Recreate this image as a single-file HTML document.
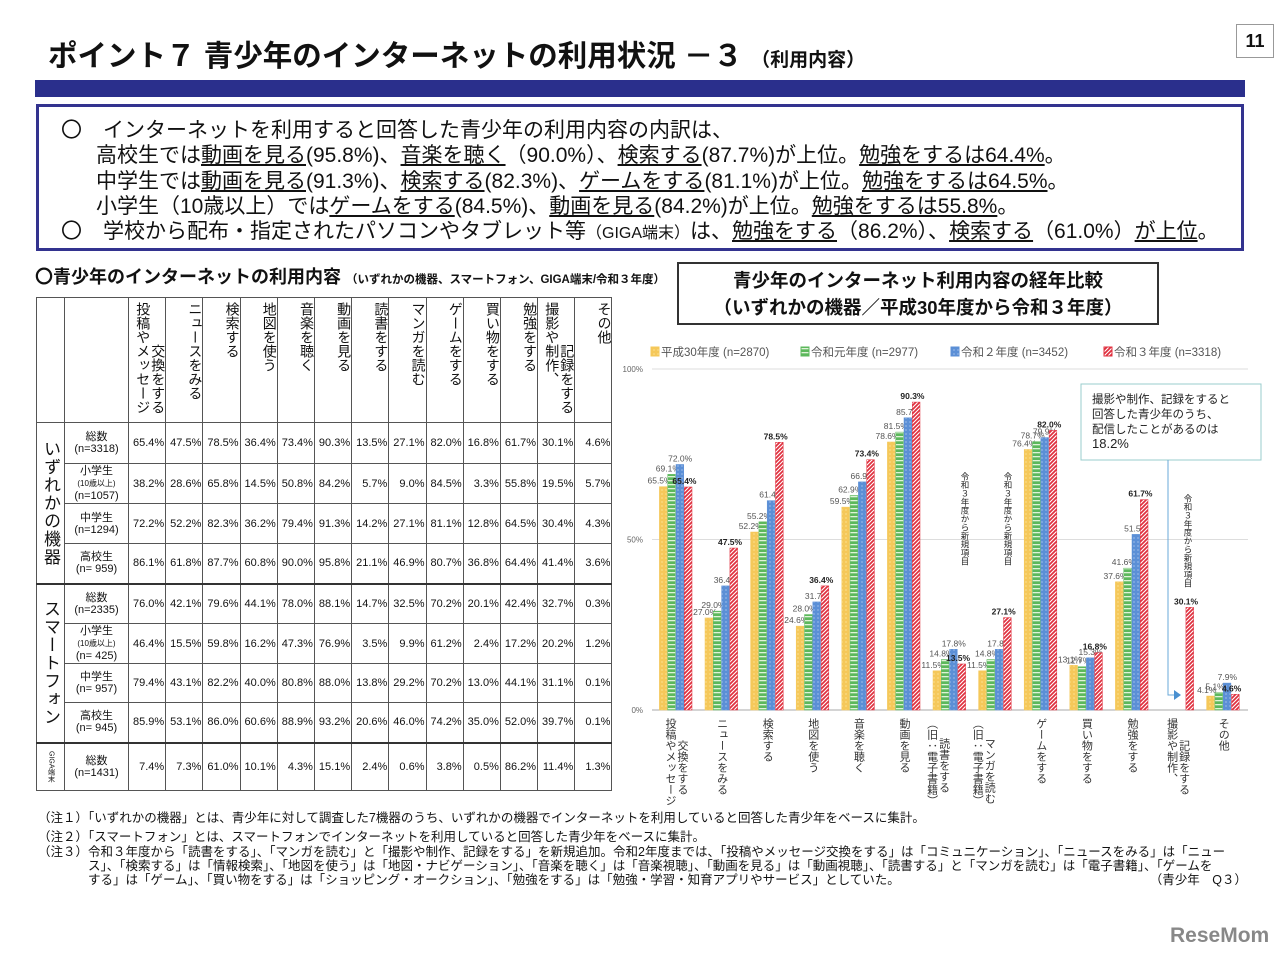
<!DOCTYPE html>
<html><head><meta charset="utf-8"><style>
body{margin:0;width:1280px;height:959px;background:#fff;position:relative;overflow:hidden;font-family:"Liberation Sans","Noto Sans CJK JP",sans-serif;color:#111}
.abs{position:absolute}
#title{left:48px;top:33px;font-size:29.5px;font-weight:bold;white-space:nowrap}
#title small{font-size:19px}
#pnum{left:1236px;top:24px;width:36px;height:32px;border:1px solid #999;font-size:18px;font-weight:bold;text-align:center;line-height:32px}
#bar{left:35px;top:80px;width:1210px;height:17px;background:#2a2f8c}
#sum{left:36px;top:104px;width:1208px;height:147px;border:3px solid #33338f;font-size:21px;line-height:25.3px;padding-top:11px;box-sizing:border-box;white-space:nowrap}
#sum div{margin-left:22px}
#sum .in{margin-left:57px}
u{text-decoration:underline}
#ttab{left:35px;top:263px;font-size:18px;font-weight:bold;white-space:nowrap}
#ttab small{font-size:11.5px}
table{position:absolute;left:36px;top:297px;border-collapse:collapse;font-size:11px;table-layout:fixed;width:576px}
td{border:1px solid #555;padding:0;text-align:center;overflow:hidden;white-space:nowrap}
td.v{text-align:right;padding-right:1px}
.hd{writing-mode:vertical-rl;height:120px;vertical-align:top;font-size:14px;text-align:left;padding-top:4px;line-height:15px}
.rl{font-size:11px;line-height:12px}
.tiny{font-size:8px}
.grp{writing-mode:vertical-rl;font-size:17px;letter-spacing:1px}
.thick{border-top:2px solid #333}
#ctitle{left:677px;top:262px;width:482px;height:63px;border:2px solid #333;box-sizing:border-box;text-align:center;font-weight:bold;font-size:18.5px;line-height:27px;padding-top:3px}
.note{left:38px;font-size:12.5px;white-space:nowrap}
#logo{left:1170px;top:924px;font-size:21px;font-weight:bold;color:#888}
</style></head><body>
<div class="abs" id="title">ポイント７ 青少年のインターネットの利用状況 －３ <small>（利用内容）</small></div>
<div class="abs" id="pnum">11</div>
<div class="abs" id="bar"></div>
<div class="abs" id="sum">
<div>〇　インターネットを利用すると回答した青少年の利用内容の内訳は、</div>
<div class="in">高校生では<u>動画を見る</u>(95.8%)、<u>音楽を聴く</u>（90.0%）、<u>検索する</u>(87.7%)が上位。<u>勉強をするは64.4%</u>。</div>
<div class="in">中学生では<u>動画を見る</u>(91.3%)、<u>検索する</u>(82.3%)、<u>ゲームをする</u>(81.1%)が上位。<u>勉強をするは64.5%</u>。</div>
<div class="in">小学生（10歳以上）では<u>ゲームをする</u>(84.5%)、<u>動画を見る</u>(84.2%)が上位。<u>勉強をするは55.8%</u>。</div>
<div>〇　学校から配布・指定されたパソコンやタブレット等<span style="font-size:16px">（GIGA端末）</span>は、<u>勉強をする</u>（86.2%）、<u>検索する</u>（61.0%）<u>が上位</u>。</div>
</div>
<div class="abs" id="ttab">〇青少年のインターネットの利用内容 <small>（いずれかの機器、スマートフォン、GIGA端末/令和３年度）</small></div>
<table id="tbl"></table>
<div class="abs" id="ctitle">青少年のインターネット利用内容の経年比較<br>（いずれかの機器／平成30年度から令和３年度）</div>
<svg class="abs" id="chart" style="left:0;top:0" width="1280" height="959"></svg>
<div class="abs note" style="top:807px">（注１）「いずれかの機器」とは、青少年に対して調査した7機器のうち、いずれかの機器でインターネットを利用していると回答した青少年をベースに集計。</div>
<div class="abs note" style="top:826px">（注２）「スマートフォン」とは、スマートフォンでインターネットを利用していると回答した青少年をベースに集計。</div>
<div class="abs note" style="top:845px;line-height:14px">（注３）令和３年度から「読書をする」、「マンガを読む」と「撮影や制作、記録をする」を新規追加。令和2年度までは、「投稿やメッセージ交換をする」は「コミュニケーション」、「ニュースをみる」は「ニュー<br>　　　　ス」、「検索する」は「情報検索」、「地図を使う」は「地図・ナビゲーション」、「音楽を聴く」は「音楽視聴」、「動画を見る」は「動画視聴」、「読書する」と「マンガを読む」は「電子書籍」、「ゲームを<br>　　　　する」は「ゲーム」、「買い物をする」は「ショッピング・オークション」、「勉強をする」は「勉強・学習・知育アプリやサービス」としていた。　　　　　　　　　　　　　　　　　　　　　（青少年　Q３）</div>
<div class="abs" id="logo">ReseMom</div>
<script>
const cats=["投稿やメッセージ|交換をする","ニュースをみる","検索する","地図を使う","音楽を聴く","動画を見る","読書をする|（旧：電子書籍）","マンガを読む|（旧：電子書籍）","ゲームをする","買い物をする","勉強をする","撮影や制作、|記録をする","その他"];
const h30=[65.5,27.0,52.2,24.6,59.5,78.6,11.5,11.5,76.4,13.1,37.6,null,4.1];
const r1=[69.1,29.0,55.2,28.0,62.9,81.5,14.8,14.8,78.7,12.7,41.6,null,5.1];
const r2=[72.0,36.4,61.4,31.7,66.9,85.7,17.8,17.8,79.9,15.3,51.5,null,7.9];
const r3=[65.4,47.5,78.5,36.4,73.4,90.3,13.5,27.1,82.0,16.8,61.7,30.1,4.6];
const seriesNames=["平成30年度 (n=2870)","令和元年度 (n=2977)","令和２年度 (n=3452)","令和３年度 (n=3318)"];
const yTicks=[0,50,100];
const rowLabels=["総数|(n=3318)","小学生|(10歳以上)|(n=1057)","中学生|(n=1294)","高校生|(n= 959)","総数|(n=2335)","小学生|(10歳以上)|(n= 425)","中学生|(n= 957)","高校生|(n= 945)","総数|(n=1431)"];
const tableVals=[
[65.4,47.5,78.5,36.4,73.4,90.3,13.5,27.1,82.0,16.8,61.7,30.1,4.6],
[38.2,28.6,65.8,14.5,50.8,84.2,5.7,9.0,84.5,3.3,55.8,19.5,5.7],
[72.2,52.2,82.3,36.2,79.4,91.3,14.2,27.1,81.1,12.8,64.5,30.4,4.3],
[86.1,61.8,87.7,60.8,90.0,95.8,21.1,46.9,80.7,36.8,64.4,41.4,3.6],
[76.0,42.1,79.6,44.1,78.0,88.1,14.7,32.5,70.2,20.1,42.4,32.7,0.3],
[46.4,15.5,59.8,16.2,47.3,76.9,3.5,9.9,61.2,2.4,17.2,20.2,1.2],
[79.4,43.1,82.2,40.0,80.8,88.0,13.8,29.2,70.2,13.0,44.1,31.1,0.1],
[85.9,53.1,86.0,60.6,88.9,93.2,20.6,46.0,74.2,35.0,52.0,39.7,0.1],
[7.4,7.3,61.0,10.1,4.3,15.1,2.4,0.6,3.8,0.5,86.2,11.4,1.3]];
const tableHead=["　　　交換をする|投稿やメッセージ","ニュースをみる","検索する","地図を使う","音楽を聴く","動画を見る","読書をする","マンガを読む","ゲームをする","買い物をする","勉強をする","　　　記録をする|撮影や制作、","その他"];

// table
const tb=document.getElementById('tbl');
let h='<colgroup><col style="width:28px"><col style="width:64px">'+'<col style="width:37.2px">'.repeat(13)+'</colgroup>';
h+='<tr style="height:123px"><td></td><td></td>';
tableHead.forEach(t=>{h+='<td class="hd">'+t.split('|').join('<br>')+'</td>';});
h+='</tr>';
const rh=[41,40,40,40,40,40,39,40,48];
tableVals.forEach((r,i)=>{
  h+='<tr style="height:'+rh[i]+'px"'+((i==4||i==8)?' class="thick"':'')+'>';
  if(i==0)h+='<td rowspan="4" class="grp">いずれかの機器</td>';
  if(i==4)h+='<td rowspan="4" class="grp">スマートフォン</td>';
  if(i==8)h+='<td style="writing-mode:vertical-rl;font-size:7px">GIGA端末</td>';
  const p=rowLabels[i].split('|');
  h+='<td class="rl">'+p.map((s,k)=>p.length==3&&k==1?'<span class="tiny">'+s+'</span>':s).join('<br>')+'</td>';
  r.forEach(v=>{h+='<td class="v">'+v.toFixed(1)+'%</td>';});
  h+='</tr>';
});
tb.innerHTML=h;

// chart
const svg=document.getElementById('chart');
const NS='http://www.w3.org/2000/svg';
function mk(t,a,p){const e=document.createElementNS(NS,t);for(const k in a)e.setAttribute(k,a[k]);(p||svg).appendChild(e);return e;}
const y0=710,y100=369;
function y(v){return y0-(y0-y100)*v/100;}
function gx(i){return 676+i*45.6;}
const bw=8.3;
const defs=mk('defs',{});
const cols=[["#f5c85a","#fff4c0"],["#5cb85c","#dff2d8"],["#5b8fd6","#dbe8fa"],["#e0303f","#fff"]];
cols.forEach((c,i)=>{
  const p=mk('pattern',{id:'p'+i,width:4,height:4,patternUnits:'userSpaceOnUse'},defs);
  mk('rect',{width:4,height:4,fill:c[0]},p);
  if(i==1)mk('rect',{y:0,width:4,height:1.3,fill:c[1]},p);
  else if(i==3){mk('path',{d:'M-1,1 l2,-2 M0,4 l4,-4 M3,5 l2,-2',stroke:'#fff',"stroke-width":1.1},p);}
  else mk('rect',{x:1.5,y:1.5,width:1,height:1,fill:c[1]},p);
});
yTicks.forEach(t=>{
  const l=mk('line',{x1:652,x2:1248,y1:y(t),y2:y(t),stroke:t==0?'#aaa':'#ddd'});
  
  
  const tx=mk('text',{x:643,y:y(t)+3,"font-size":8,"text-anchor":"end",fill:'#666'});tx.textContent=t+'%';
  
  
});
const series=[h30,r1,r2,r3];
series.forEach((s,si)=>{
  s.forEach((v,i)=>{
    if(v==null)return;
    const x=gx(i)-2*bw+si*bw;
    const r=mk('rect',{x:x,y:y(v),width:bw-0.6,height:y0-y(v),fill:'url(#p'+si+')',stroke:cols[si][0],"stroke-width":0.5});
    
    
    const tx=mk('text',{x:x+bw/2-(si<2?4:(si==3?4:0)),y:y(v)-3,"font-size":8.5,"text-anchor":"middle",fill:si==3?'#222':'#555',"font-weight":si==3?'bold':'normal'});
    tx.textContent=v.toFixed(1)+'%';
    
    
  });
});
cats.forEach((c,i)=>{
  const parts=c.split('|');
  parts.forEach((p,k)=>{
    const off=parts.length==2?(k==0?-6:(c.indexOf('旧')>=0?-18:6)):0;
    const yy=(parts.length==2&&k==1&&c.indexOf('旧')<0)?740:718;
    const tx=mk('text',{x:gx(i)+off,y:(c.indexOf('旧')>=0&&k==0)?738:yy,"font-size":11,fill:'#333',style:'writing-mode:vertical-rl'});
    tx.textContent=p;
    
    
  });
});
[[965,472],[1008,472],[1188,494]].forEach(p=>{
  const tx=mk('text',{x:p[0],y:p[1],"font-size":8.5,fill:'#222',style:'writing-mode:vertical-rl'});
  tx.textContent='令和３年度から新規項目';
  
  
});
seriesNames.forEach((n,i)=>{
  const lx=[651,801,951,1104][i];
  const r=mk('rect',{x:lx,y:347,width:8,height:9,fill:'url(#p'+i+')',stroke:cols[i][0]});
  
  
  const tx=mk('text',{x:lx+10,y:356,"font-size":11.5,fill:'#555'});tx.textContent=n;
  
  
});
const box=mk('rect',{x:1081,y:384,width:180,height:76,fill:'#fff',stroke:'#9cc'});


["撮影や制作、記録をすると","回答した青少年のうち、","配信したことがあるのは","18.2%"].forEach((t,k)=>{
  const tx=mk('text',{x:1092,y:403+k*15,"font-size":k==3?13:11.5,fill:'#222'});tx.textContent=t;
  
  
});
mk('path',{d:'M1168,460 V695 H1175',stroke:'#6aa8d8',fill:'none'});
mk('path',{d:'M1174,690 l7,5 l-7,5z',fill:'#4a90d0'});
</script>
</body></html>
